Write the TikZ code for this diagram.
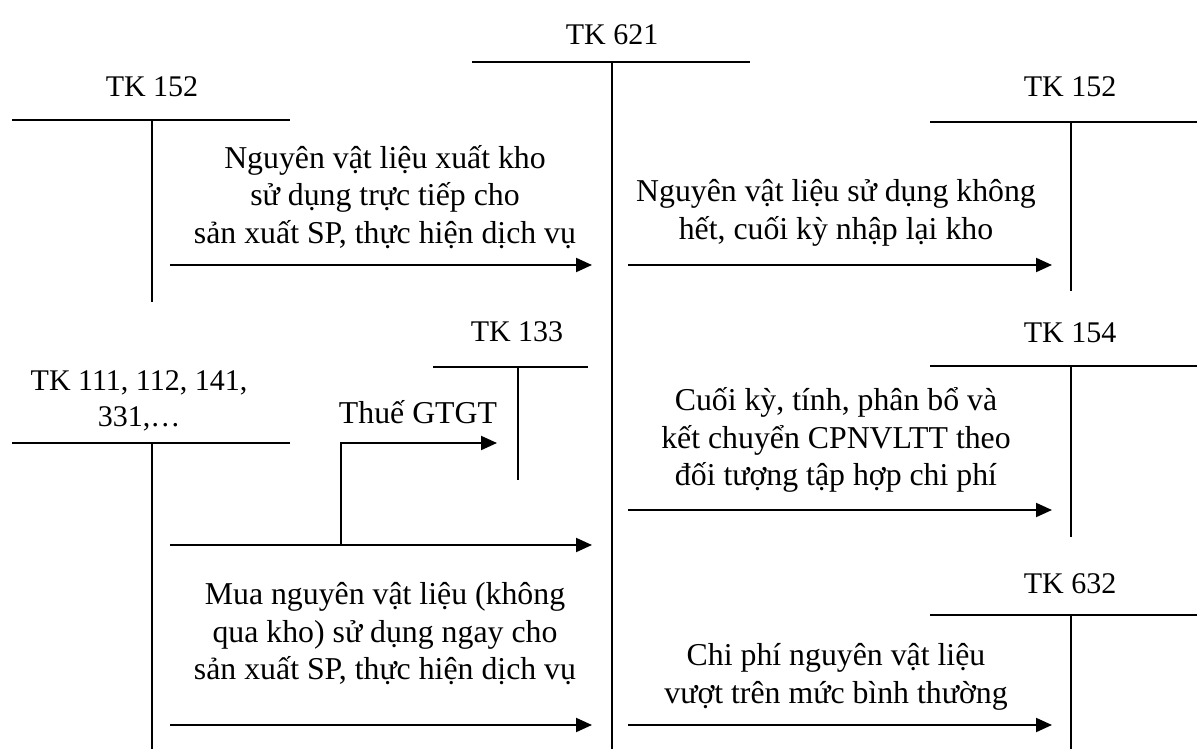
\documentclass[tikz,border=0pt]{standalone}
\usepackage{fontspec}
\setmainfont{Liberation Serif}
\usetikzlibrary{arrows.meta}
\begin{document}
\begin{tikzpicture}[x=1pt,y=-1pt,
  tline/.style={line width=2pt},
  flow/.style={line width=2pt,-{Triangle[length=16pt,width=14pt]}},
  lbl/.style={font=\fontsize{30}{36.5}\selectfont,inner sep=0pt,align=center},
  note/.style={font=\fontsize{31.8}{37.5}\selectfont,inner sep=0pt,align=center}]
\useasboundingbox (0,0) rectangle (1197,749);
% TK 621
\node[lbl] (t621) at (612,35) {TK 621};
\draw[tline] (472,62) -- (750,62);
\draw[tline] (612,62) -- (612,749);
% TK 152 left
\node[lbl] (t152a) at (152,87) {TK 152};
\draw[tline] (12,120) -- (290,120);
\draw[tline] (152,120) -- (152,302);
% TK 152 right
\node[lbl] (t152b) at (1070,87) {TK 152};
\draw[tline] (930,122) -- (1197,122);
\draw[tline] (1071,122) -- (1071,291);
% TK 133
\node[lbl] (t133) at (517,332) {TK 133};
\draw[tline] (433,367) -- (588,367);
\draw[tline] (518,367) -- (518,480);
% TK 111
\node[lbl] (t111) at (139,401) {TK 111, 112, 141,\\331,\ldots};
\draw[tline] (12,443) -- (290,443);
\draw[tline] (152,443) -- (152,749);
% TK 154
\node[lbl] (t154) at (1070,333) {TK 154};
\draw[tline] (930,366) -- (1197,366);
\draw[tline] (1071,366) -- (1071,537);
% TK 632
\node[lbl] (t632) at (1070,584) {TK 632};
\draw[tline] (930,615) -- (1197,615);
\draw[tline] (1071,615) -- (1071,749);
% coordinates
\coordinate (a1s) at (170,265); \coordinate (a1e) at (592,265);
\coordinate (a2s) at (628,265); \coordinate (a2e) at (1052,265);
\coordinate (a3s) at (170,545); \coordinate (a3e) at (592,545);
\coordinate (vb) at (341,545); \coordinate (ve) at (497,443);
\coordinate (a4s) at (170,725); \coordinate (a4e) at (592,725);
\coordinate (a5s) at (628,510); \coordinate (a5e) at (1052,510);
\coordinate (a6s) at (628,725); \coordinate (a6e) at (1052,725);
% texts
\node[note] (n1) at (385,197) {Nguyên vật liệu xuất kho\\sử dụng trực tiếp cho\\sản xuất SP, thực hiện dịch vụ};
\node[note] (n2) at (836,213) {Nguyên vật liệu sử dụng không\\hết, cuối kỳ nhập lại kho};
\node[note] (n3) at (418,412) {Thuế GTGT};
\node[note] (n4) at (385,634) {Mua nguyên vật liệu (không\\qua kho) sử dụng ngay cho\\sản xuất SP, thực hiện dịch vụ};
\node[note] (n5) at (836,440) {Cuối kỳ, tính, phân bổ và\\kết chuyển CPNVLTT theo\\đối tượng tập hợp chi phí};
\node[note] (n6) at (836,677) {Chi phí nguyên vật liệu\\vượt trên mức bình thường};
% arrows
\draw[flow] (a1s) -- (a1e);
\draw[flow] (a2s) -- (a2e);
\draw[flow] (a3s) -- (a3e);
\draw[flow] (vb) |- (ve);
\draw[flow] (a4s) -- (a4e);
\draw[flow] (a5s) -- (a5e);
\draw[flow] (a6s) -- (a6e);
\end{tikzpicture}
\end{document}
